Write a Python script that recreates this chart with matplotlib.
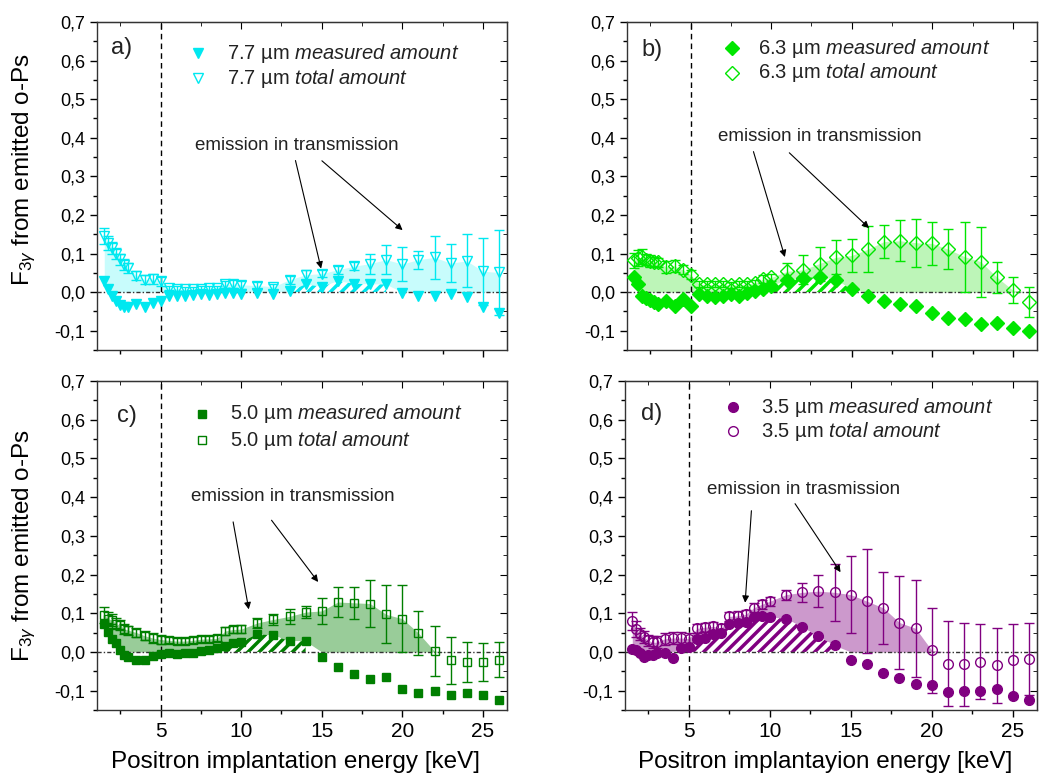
import numpy as np
import matplotlib
matplotlib.use("Agg")
import matplotlib.pyplot as plt
from matplotlib.ticker import MultipleLocator, FuncFormatter, NullFormatter

plt.rcParams['font.family'] = ['Liberation Sans', 'DejaVu Sans']
plt.rcParams['mathtext.fontset'] = 'custom'
plt.rcParams['mathtext.rm'] = 'Liberation Sans'
plt.rcParams['mathtext.it'] = 'Liberation Sans:italic'
plt.rcParams['hatch.linewidth'] = 2.5

# positron implantation energy [keV]
energy = [1.5, 1.75, 2.0, 2.25, 2.5, 2.75, 3.0, 3.5, 4.0, 4.5, 5.0,
          5.5, 6.0, 6.5, 7.0, 7.5, 8.0, 8.5, 9.0, 9.5, 10.0,
          11, 12, 13, 14, 15, 16, 17, 18, 19, 20, 21, 22, 23, 24, 25, 26]

# a) 7.7 um
meas_77 = [.028, .007, -.010, -.023, -.034, -.038, -.038, -.032, -.038, -.029, -.023,
           -.010, -.010, -.010, -.008, -.006, -.008, -.006, -.002, -.002, -.004,
           -.002, -.006, .003, .020, .014, .028, .022, .020, .020, -.002, -.009, -.010, -.006, -.012, -.038, -.053]
total_77 = [.145, .128, .114, .100, .085, .071, .062, .043, .032, .034, .028,
            .011, .009, .008, .007, .009, .010, .011, .020, .021, .019,
            .017, .014, .032, .045, .048, .058, .067, .074, .084, .073, .084, .090, .075, .081, .054, .051]
err_77 = [.020, .018, .016, .015, .015, .014, .013, .012, .012, .012, .012,
          .006, .006, .006, .006, .006, .006, .006, .010, .010, .010,
          .008, .008, .010, .013, .010, .010, .010, .026, .037, .044, .023, .056, .049, .069, .087, .110]

# b) 6.3 um
meas_63 = [.039, .020, -.009, -.015, -.020, -.025, -.030, -.023, -.036, -.019, -.036,
           -.006, -.010, -.012, -.010, -.006, -.009, -.002, .003, .009, .015,
           .031, .037, .039, .032, .007, -.010, -.023, -.032, -.036, -.055, -.066, -.070, -.083, -.079, -.094, -.100]
total_63 = [.082, .088, .092, .084, .081, .079, .077, .065, .068, .058, .045,
            .021, .020, .020, .020, .018, .020, .021, .024, .034, .038,
            .054, .058, .074, .090, .095, .111, .131, .133, .128, .126, .111, .092, .079, .039, .005, -.026]
err_63 = [.020, .020, .020, .015, .015, .012, .012, .015, .015, .012, .012,
          .008, .008, .008, .008, .008, .008, .008, .008, .010, .010,
          .021, .037, .044, .044, .043, .060, .043, .053, .062, .056, .052, .091, .091, .040, .034, .039]

# c) 5.0 um
meas_50 = [.073, .052, .034, .022, .004, -.009, -.013, -.020, -.020, -.010, -.006,
           -.004, -.006, -.004, -.003, .003, .006, .011, .015, .022, .026,
           .046, .043, .028, .028, -.013, -.040, -.056, -.071, -.066, -.095, -.105, -.101, -.110, -.105, -.112, -.123]
total_50 = [.095, .086, .082, .073, .069, .060, .056, .050, .042, .036, .032,
            .030, .028, .028, .030, .033, .034, .035, .054, .058, .059,
            .075, .084, .092, .103, .106, .129, .127, .125, .097, .086, .049, .002, -.022, -.026, -.026, -.020]
err_50 = [.020, .017, .015, .015, .013, .013, .012, .012, .012, .012, .012,
          .008, .008, .008, .008, .008, .008, .008, .010, .010, .010,
          .012, .015, .020, .016, .034, .039, .041, .060, .075, .086, .057, .065, .060, .052, .049, .046]

# d) 3.5 um
meas_35 = [.008, .004, -.004, -.013, -.008, -.008, -.004, -.004, -.015, .010, .013,
           .034, .036, .047, .048, .072, .075, .078, .089, .092, .089,
           .086, .064, .040, .017, -.021, -.032, -.055, -.068, -.083, -.085, -.104, -.100, -.100, -.095, -.113, -.123]
total_35 = [.080, .059, .047, .038, .030, .025, .025, .034, .036, .036, .034,
            .061, .064, .066, .061, .092, .093, .097, .114, .123, .131,
            .148, .154, .157, .154, .148, .131, .114, .076, .061, .004, -.030, -.032, -.025, -.034, -.021, -.017]
err_35 = [.023, .020, .015, .015, .015, .015, .015, .015, .015, .015, .015,
          .012, .012, .012, .012, .012, .012, .012, .012, .012, .012,
          .013, .024, .042, .073, .100, .135, .093, .119, .125, .110, .110, .108, .097, .097, .093, .093]

thickness = ["7.7", "6.3", "5.0", "3.5"]
colors = ["#00E8F0", "#00E600", "#007F00", "#800080"]
shades = ["#C8FCFC", "#BDF5B8", "#99CC99", "#CC99CC"]
markers = ["v", "D", "s", "o"]
msizes = [7, 7.5, 6, 7]
letters = ["a)", "b)", "c)", "d)"]
note_text = ["emission in transmission", "emission in transmission",
             "emission in transmission", "emission in trasmission"]
xlabels = [None, None, "Positron implantation energy [keV]", "Positron implantayion energy [keV]"]

W, H = 1053, 781
boxes = [(97, 22, 410, 328), (627, 22, 410, 328), (97, 381, 410, 329), (625, 381, 412, 329)]

# text position and arrows (tail, head) in data units
notes = [
    ((13.46, 0.381), [((13.33, 0.348), (15.0, 0.054)), ((14.88, 0.345), (20.15, 0.156))]),
    ((13.0, 0.404), [((8.85, 0.371), (10.9, 0.084)), ((11.0, 0.366), (16.2, 0.161))]),
    ((13.2, 0.402), [((9.47, 0.343), (10.5, 0.103)), ((11.78, 0.346), (14.88, 0.175))]),
    ((12.08, 0.419), [((8.87, 0.372), (8.46, 0.12)), ((11.46, 0.389), (14.46, 0.2))]),
]
legend_pos = [(0.246, 0.317, 0.905, 0.829), (0.255, 0.32, 0.92, 0.845),
              (0.255, 0.324, 0.90, 0.82), (0.262, 0.33, 0.92, 0.847)]
letter_pos = [(0.06, 0.92), (0.06, 0.915), (0.074, 0.894), (0.065, 0.90)]

measured = [meas_77, meas_63, meas_50, meas_35]
totals = [total_77, total_63, total_50, total_35]
errors = [err_77, err_63, err_50, err_35]

comma = FuncFormatter(lambda v, p: f"{0.0 if abs(v) < 1e-9 else v:.1f}".replace('.', ','))

fig = plt.figure(figsize=(W / 100, H / 100), dpi=100)
E = np.array(energy)

for i in range(4):
    x0, y0, w, h = boxes[i]
    ax = fig.add_axes([x0 / W, 1 - (y0 + h) / H, w / W, h / H])
    c = colors[i]
    m = np.array(measured[i])
    t = np.array(totals[i])

    lower = np.clip(m, 0, None)
    upper = np.clip(t, 0, None)
    ax.fill_between(E, lower, upper, where=upper >= lower, interpolate=True,
                    color=shades[i], lw=0, zorder=1)
    ax.fill_between(E, 0, m, where=(E >= 5) & (m > 0), facecolor="white",
                    edgecolor=c, hatch="///", lw=0, zorder=1.5)

    ax.axvline(5, color="k", ls=(0, (4, 3)), lw=1, zorder=2)
    ax.axhline(0, color="#333333", ls=(0, (3, 1.5, 1, 1.5)), lw=1, zorder=2)

    ax.errorbar(E, t, yerr=errors[i], fmt=markers[i], ms=msizes[i], mfc="none",
                mec=c, ecolor=c, elinewidth=1, capsize=3.5, capthick=1, zorder=3)
    ax.plot(E, m, ls="none", marker=markers[i], ms=msizes[i], color=c, zorder=4)

    # legend drawn by hand so that the description can be italic
    mx, tx, r1, r2 = legend_pos[i]
    ax.plot([mx], [r1], marker=markers[i], ms=msizes[i], color=c, ls="none",
            transform=ax.transAxes, clip_on=False)
    ax.plot([mx], [r2], marker=markers[i], ms=msizes[i], mfc="none", mec=c, ls="none",
            transform=ax.transAxes, clip_on=False)
    ax.text(tx, r1, thickness[i] + r" µm $\mathit{measured\ amount}$", transform=ax.transAxes,
            va="center", fontsize=14.5, color="#222222")
    ax.text(tx, r2, thickness[i] + r" µm $\mathit{total\ amount}$", transform=ax.transAxes,
            va="center", fontsize=14.5, color="#222222")
    ax.text(*letter_pos[i], letters[i], transform=ax.transAxes, ha="center", va="center",
            fontsize=17, color="#222222")

    (nx, ny), arrows = notes[i]
    ax.text(nx, ny, note_text[i], ha="center", va="center", fontsize=13.5, color="#222222")
    for tail, head in arrows:
        ax.annotate("", xy=head, xytext=tail,
                    arrowprops=dict(arrowstyle="-|>", color="k", lw=0.8, mutation_scale=10))

    ax.set_xlim(1.05, 26.5)
    ax.set_ylim(-0.15, 0.7)
    ax.xaxis.set_major_locator(MultipleLocator(5))
    ax.xaxis.set_minor_locator(MultipleLocator(2.5))
    ax.yaxis.set_major_locator(MultipleLocator(0.1))
    ax.yaxis.set_minor_locator(MultipleLocator(0.05))
    ax.yaxis.set_major_formatter(comma)
    ax.tick_params(which="major", direction="out", length=5, width=1, labelsize=13)
    ax.tick_params(which="minor", direction="out", length=3, width=1)
    ax.tick_params(axis="x", labelsize=15)
    for s in ax.spines.values():
        s.set_linewidth(1)
        s.set_color("#333333")

    top = ax.secondary_xaxis("top")
    top.xaxis.set_major_locator(MultipleLocator(5))
    top.xaxis.set_minor_locator(MultipleLocator(2.5))
    top.xaxis.set_major_formatter(NullFormatter())
    top.tick_params(which="major", direction="in", length=5)
    top.tick_params(which="minor", direction="in", length=3)
    right = ax.secondary_yaxis("right")
    right.yaxis.set_major_locator(MultipleLocator(0.1))
    right.yaxis.set_minor_locator(MultipleLocator(0.05))
    right.yaxis.set_major_formatter(NullFormatter())
    right.tick_params(which="major", direction="in", length=5)
    right.tick_params(which="minor", direction="in", length=3)

    if xlabels[i]:
        ax.set_xlabel(xlabels[i], fontsize=17.5)
        ax.xaxis.set_label_coords(0.485, -0.125)
    else:
        ax.xaxis.set_major_formatter(NullFormatter())
    if i % 2 == 0:
        ax.set_ylabel(r"F$_{3\gamma}$ from emitted o-Ps", fontsize=17.5)
        ax.yaxis.set_label_coords(-0.145, 0.55 if i == 0 else 0.5)

fig.savefig("out.png", dpi=100)
